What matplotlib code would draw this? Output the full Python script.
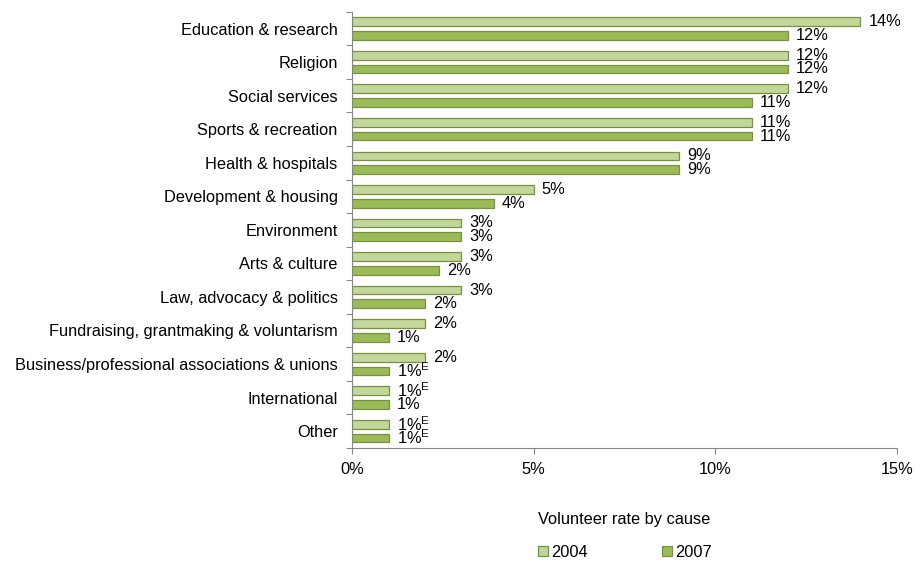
import numpy as np
import matplotlib
matplotlib.use("Agg")
import matplotlib.pyplot as plt

plt.rcParams['font.family'] = ['Liberation Sans', 'DejaVu Sans']
plt.rcParams['mathtext.fontset'] = 'custom'
plt.rcParams['mathtext.rm'] = 'Liberation Sans'

causes = ["Education & research", "Religion", "Social services", "Sports & recreation",
          "Health & hospitals", "Development & housing", "Environment", "Arts & culture",
          "Law, advocacy & politics", "Fundraising, grantmaking & voluntarism",
          "Business/professional associations & unions", "International", "Other"]
rate_2004 = [14.0, 12.0, 12.0, 11.0, 9.0, 5.0, 3.0, 3.0, 3.0, 2.0, 2.0, 1.0, 1.0]
rate_2007 = [12.0, 12.0, 11.0, 11.0, 9.0, 3.9, 3.0, 2.4, 2.0, 1.0, 1.0, 1.0, 1.0]
labels_2004 = ["14%", "12%", "12%", "11%", "9%", "5%", "3%", "3%", "3%", "2%", "2%", "1%E", "1%E"]
labels_2007 = ["12%", "12%", "11%", "11%", "9%", "4%", "3%", "2%", "2%", "1%", "1%E", "1%", "1%E"]

fs = 11.8
fig = plt.figure(figsize=(9.15, 5.62), dpi=100)
ax = fig.add_axes([0.385, 0.203, 0.595, 0.776])

y = np.arange(len(causes))
h = 0.26
off = 0.205
edge = '#76923c'
c04 = '#c3d69b'
c07 = '#9bbb59'
ax.barh(y - off, rate_2004, height=h, color=c04, edgecolor=edge, linewidth=0.9, label='2004')
ax.barh(y + off, rate_2007, height=h, color=c07, edgecolor=edge, linewidth=0.9, label='2007')

def fmt(s):
    if s.endswith('E'):
        return s[:-1] + r'$^{\mathrm{E}}$'
    return s

for i in range(len(causes)):
    ax.text(rate_2004[i] + 0.22, y[i] - off, fmt(labels_2004[i]), va='center', ha='left',
            fontsize=fs, clip_on=False)
    ax.text(rate_2007[i] + 0.22, y[i] + off, fmt(labels_2007[i]), va='center', ha='left',
            fontsize=fs, clip_on=False)

ax.set_ylim(len(causes) - 0.5, -0.5)
ax.set_xlim(0, 15)
ax.set_xticks([0, 5, 10, 15])
ax.set_xticklabels(["0%", "5%", "10%", "15%"], fontsize=fs)
ax.set_yticks(np.arange(-0.5, len(causes), 1.0))
ax.set_yticklabels([])
ax.set_yticks(y, minor=True)
ax.set_yticklabels(causes, minor=True, fontsize=fs)
ax.tick_params(axis='y', which='minor', length=0, pad=10.5)
ax.tick_params(axis='y', which='major', length=4, color='#868686')
ax.tick_params(axis='x', length=4, color='#868686', pad=6)

for s in ['top', 'right']:
    ax.spines[s].set_visible(False)
for s in ['left', 'bottom']:
    ax.spines[s].set_color('#868686')

ax.set_xlabel("Volunteer rate by cause", fontsize=fs, labelpad=25)

leg = fig.legend(loc='lower center', bbox_to_anchor=(0.683, -0.022), ncol=2, frameon=False,
                 fontsize=fs, handlelength=0.6, handleheight=0.6, handletextpad=0.2,
                 columnspacing=4.5)

fig.savefig("out.png", dpi=100)
